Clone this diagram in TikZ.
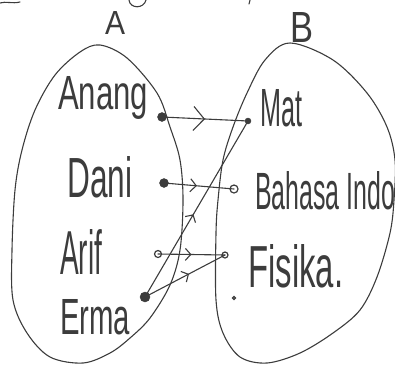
\documentclass[tikz,border=0pt]{standalone}
\usepackage{fontspec}
\setmainfont{Liberation Sans}
\usetikzlibrary{arrows.meta,decorations.markings}
\definecolor{inkc}{HTML}{3C3C3C}
\newcommand{\fitt}[3]{\resizebox{#1pt}{#2pt}{#3}}
\begin{document}
\begin{tikzpicture}[x=1pt,y=-1pt,
  ink/.style={draw=inkc, line width=1.1pt, line cap=round, line join=round},
  lbl/.style={inner sep=0pt, anchor=south west, text=inkc},
  dotf/.style={circle, fill=inkc, draw=inkc, inner sep=0pt, minimum size=#1},
  doto/.style={circle, fill=white, draw=inkc, line width=1.2pt, inner sep=0pt, minimum size=#1},
  midarr/.style 2 args={postaction={decorate}, decoration={markings,
     mark=at position #1 with {\arrow[inkc, line width=1.1pt]{Straight Barb[length=#2*0.45pt, width=#2*1pt]}}}}
  ]
\useasboundingbox (0,0) rectangle (395,367);
\begin{scope}
\clip (0,0) rectangle (395,367);
% set outlines
\draw[ink] plot[smooth cycle, tension=0.55] coordinates {
  (100,45) (127,58) (157,93) (170,127) (180,160) (183,200) (180,250) (170,285)
  (150,318) (130,338) (110,353) (83,363) (50,357) (27,333) (13,300) (12,250)
  (15,190) (22,150) (35,110) (55,75) (80,52)};
\draw[ink] plot[smooth cycle, tension=0.55] coordinates {
  (290,43) (333,60) (367,93) (387,127) (395,160) (394,200) (390,233) (377,277)
  (360,310) (333,333) (300,353) (267,363) (240,357) (223,333) (216,300) (216,233)
  (218,200) (223,160) (233,127) (247,93) (265,60)};
% cut-off fragments at top
\draw[ink] (0,3) .. controls (6,1) and (12,4) .. (20,2);
\draw[ink] (129,0) .. controls (130,9) and (144,9) .. (146,0);
\draw[ink] (250,0) -- (249,4);
\end{scope}
% set names
\node[lbl] (la) at (105,35) {\fitt{20}{23}{A}};
\node[lbl] (lb) at (290,43) {\fitt{23}{30}{B}};
% domain labels
\node[lbl] (tanang) at (58,120) {\fitt{90}{33}{Anang}};
\node[lbl] (tdani) at (67,198) {\fitt{65}{41}{Dani}};
\node[lbl] (tarif) at (60,275) {\fitt{42}{45}{Arif}};
\node[lbl] (terma) at (60,335) {\fitt{70}{35}{Erma}};
% codomain labels
\node[lbl] (tmat) at (260,127) {\fitt{42}{37}{Mat}};
\node[lbl] (tbahasa) at (255,210) {\fitt{140}{38}{Bahasa Indo}};
\node[lbl] (tfisika) at (248,288) {\fitt{95}{43}{Fisika.}};
% points
\node[dotf=9pt] (anang) at (162,117) {};
\node[dotf=9pt] (dani) at (164,183) {};
\node[doto=7pt] (arif) at (158,254) {};
\node[dotf=10pt] (erma) at (145,297) {};
\node[dotf=6pt] (mat) at (248,121) {};
\node[doto=8pt] (bahasa) at (234,189) {};
\node[doto=6pt] (fisika) at (225,255) {};
\node[doto=3pt] (extra) at (234,298) {};
% arrows
\draw[ink, midarr={0.5}{24}] (anang.center) -- (mat.center);
\draw[ink, midarr={0.47}{13}] (dani.center) -- (bahasa.center);
\draw[ink, midarr={0.5}{12}] (arif.center) -- (fisika.center);
\draw[ink, midarr={0.55}{12}] (erma.center) -- (fisika.center);
\draw[ink, midarr={0.47}{12}] (erma.center) -- (mat.center);
\end{tikzpicture}
\end{document}
